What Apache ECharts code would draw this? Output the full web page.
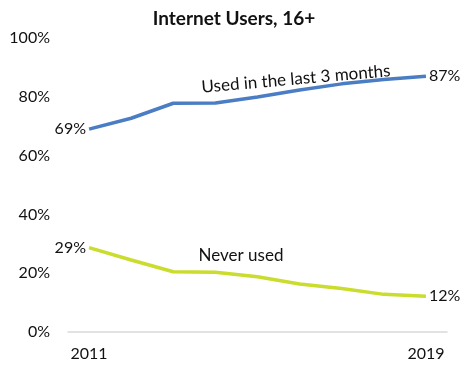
<!DOCTYPE html>
<html><head><meta charset="utf-8">
<script src="https://cdn.jsdelivr.net/npm/echarts@6/dist/echarts.min.js"></script>
<style>html,body{margin:0;padding:0;background:#fff}#c{width:468px;height:367px}</style>
</head><body><div id="c"></div>
<script>
var years = ['2011','2012','2013','2014','2015','2016','2017','2018','2019'];
var usedRecently = [69, 72.7, 77.8, 77.9, 79.9, 82.3, 84.4, 85.9, 87];
var neverUsed = [28.7, 24.5, 20.5, 20.3, 18.8, 16.3, 14.8, 12.8, 12.2];
var yTicks = [0, 20, 40, 60, 80, 100];
var seriesNames = ['Used in the last 3 months', 'Never used'];

var FONT = 'Lato';
function mk(arr) {
  var last = arr.length - 1;
  return arr.map(function (v, i) {
    return {
      value: v,
      label: {
        show: i === 0 || i === last,
        position: i === 0 ? 'left' : 'right',
        distance: 3,
        formatter: Math.round(v) + '%',
        color: '#111', fontSize: 16, fontFamily: FONT
      }
    };
  });
}
var chart = echarts.init(document.getElementById('c'));
chart.setOption({
  animation: false,
  title: {
    text: 'Internet Users, 16+', left: 'center', top: 4,
    textStyle: { fontFamily: FONT, fontWeight: 'bold', fontSize: 19, color: '#111' }
  },
  grid: { left: 68, right: 21, top: 38, bottom: 35 },
  xAxis: {
    type: 'category', data: years, boundaryGap: true,
    axisLine: { lineStyle: { color: '#d9d9d9', width: 1.5 } },
    axisTick: { show: false },
    axisLabel: {
      interval: function (i) { return i === 0 || i === years.length - 1; },
      color: '#111', fontSize: 16, fontFamily: FONT, margin: 14
    }
  },
  yAxis: {
    type: 'value', min: 0, max: 100, interval: 20,
    splitLine: { show: false },
    axisLine: { show: false }, axisTick: { show: false },
    axisLabel: {
      formatter: function (v) { return yTicks.indexOf(v) >= 0 ? v + '%' : ''; },
      color: '#111', fontSize: 16, fontFamily: FONT, margin: 18
    }
  },
  series: [
    { name: seriesNames[0], type: 'line', data: mk(usedRecently), symbol: 'circle', symbolSize: 0.1,
      lineStyle: { color: '#4A7DC3', width: 3.5 }, itemStyle: { color: '#4A7DC3' } },
    { name: seriesNames[1], type: 'line', data: mk(neverUsed), symbol: 'circle', symbolSize: 0.1,
      lineStyle: { color: '#CADC2C', width: 3.5 }, itemStyle: { color: '#CADC2C' } }
  ],
  graphic: [
    { type: 'text', x: 296, y: 79, rotation: 5 * Math.PI / 180,
      style: { text: seriesNames[0], fill: '#111', font: '17px ' + FONT, textAlign: 'center', textVerticalAlign: 'middle' } },
    { type: 'text', x: 241, y: 256,
      style: { text: seriesNames[1], fill: '#111', font: '17px ' + FONT, textAlign: 'center', textVerticalAlign: 'middle' } }
  ]
});
</script></body></html>
